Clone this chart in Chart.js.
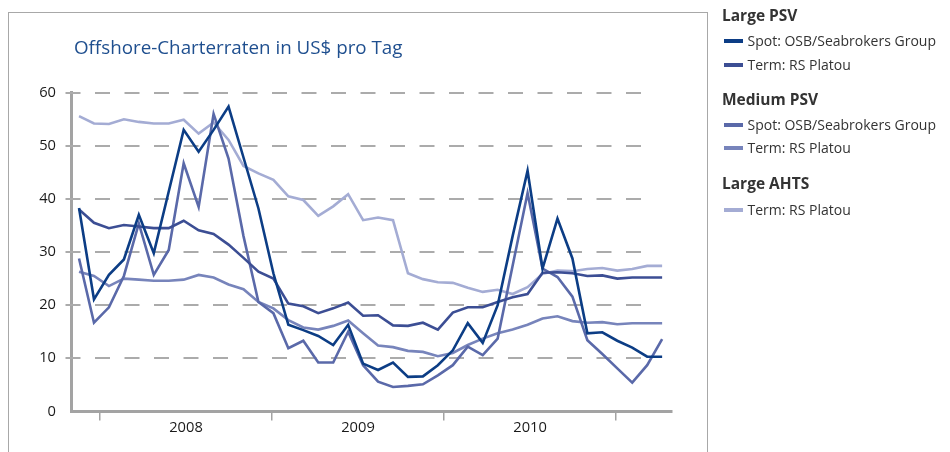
<!DOCTYPE html>
<html>
<head>
<meta charset="utf-8">
<script src="https://cdn.jsdelivr.net/npm/chart.js@4.4.1/dist/chart.umd.min.js"></script>
<style>
  html, body { margin: 0; padding: 0; background: #fff; }
  body { width: 950px; height: 452px; position: relative; overflow: hidden; font-family: 'Open Sans', sans-serif; }
  #frame { position: absolute; left: 8px; top: 12px; width: 700px; height: 520px; border: 1.5px solid #a8a8a8; box-sizing: border-box; }
  #chartWrap { position: absolute; left: 0; top: 0; width: 950px; height: 452px; }
  #title { position: absolute; left: 74px; top: 38.3px; font-size: 18.8px; line-height: 1; color: #1f4f8f; white-space: nowrap; }
  .lg-head { position: absolute; left: 722px; font-size: 15.5px; line-height: 1; font-weight: 700; color: #333; white-space: nowrap; }
  .lg-item { position: absolute; left: 747.5px; font-size: 14px; line-height: 1; color: #333; white-space: nowrap; }
  .lg-sw { position: absolute; left: 724px; width: 19.3px; height: 4px; }
</style>
</head>
<body>
<div id="frame"></div>
<div id="chartWrap"><canvas id="c" width="950" height="452"></canvas></div>
<div id="title">Offshore-Charterraten in US$ pro Tag</div>
<div id="legend"></div>
<script>
const largePsvSpot  = [38.3, 21.1, 25.7, 28.6, 37.0, 29.8, 41.4, 53.0, 48.9, 53.0, 57.4, 47.8, 38.2, 26.0, 16.3, 15.3, 14.2, 12.5, 16.3, 9.0, 7.8, 9.2, 6.5, 6.6, 8.7, 11.5, 16.6, 12.9, 20.0, 33.0, 45.3, 26.9, 36.3, 28.8, 14.7, 14.9, 13.3, 12.0, 10.3, 10.3];
const largePsvTerm  = [38.0, 35.5, 34.5, 35.1, 34.8, 34.5, 34.5, 35.9, 34.1, 33.4, 31.4, 28.9, 26.3, 25.0, 20.3, 19.8, 18.5, 19.4, 20.5, 18.0, 18.1, 16.2, 16.1, 16.7, 15.4, 18.6, 19.6, 19.6, 20.6, 21.5, 22.1, 26.1, 26.2, 26.0, 25.5, 25.6, 25.0, 25.2, 25.2, 25.2];
const mediumPsvSpot = [28.8, 16.7, 19.6, 25.5, 35.4, 25.7, 30.4, 46.7, 38.5, 56.0, 47.6, 33.0, 20.6, 18.5, 11.9, 13.3, 9.2, 9.2, 15.0, 8.7, 5.6, 4.6, 4.8, 5.1, 6.8, 8.7, 12.2, 10.6, 13.7, 27.4, 41.1, 26.9, 25.3, 21.6, 13.4, 10.8, 8.1, 5.4, 8.7, 13.6];
const mediumPsvTerm = [26.3, 25.5, 23.6, 25.0, 24.8, 24.6, 24.6, 24.8, 25.7, 25.2, 23.9, 23.0, 20.6, 19.4, 17.2, 15.8, 15.4, 16.1, 17.1, 14.7, 12.4, 12.1, 11.4, 11.2, 10.4, 11.0, 12.5, 13.7, 14.7, 15.4, 16.3, 17.5, 17.9, 17.0, 16.7, 16.8, 16.4, 16.6, 16.6, 16.6];
const largeAhtsTerm = [55.6, 54.2, 54.1, 55.0, 54.5, 54.2, 54.2, 54.9, 52.3, 54.4, 51.1, 46.2, 44.8, 43.6, 40.5, 39.8, 36.8, 38.6, 40.9, 36.0, 36.5, 36.0, 26.0, 24.9, 24.3, 24.2, 23.3, 22.5, 22.9, 22.1, 23.4, 25.9, 26.5, 26.4, 26.8, 27.0, 26.5, 26.8, 27.4, 27.4];

const yearLabels = ['2008', '2009', '2010'];
const yTickValues = [0, 10, 20, 30, 40, 50, 60];

const legendGroups = [
  { head: 'Large PSV', items: [ { label: 'Spot: OSB/Seabrokers Group', series: 0 }, { label: 'Term: RS Platou', series: 1 } ] },
  { head: 'Medium PSV', items: [ { label: 'Spot: OSB/Seabrokers Group', series: 2 }, { label: 'Term: RS Platou', series: 3 } ] },
  { head: 'Large AHTS', items: [ { label: 'Term: RS Platou', series: 4 } ] }
];

// ---- Style / layout configuration ----
const COLORS = ['#0c3d85', '#3c4e94', '#5a69a9', '#7784bb', '#a4acd4'];
const X_MIN = -0.49, X_MAX = 39.64;             // axis extent in observation index units
const YEAR_BOUNDS = [1.40, 12.91, 24.41, 35.92]; // year boundary tick positions
const AXIS_COLOR = '#a3a3a3';
const GRID_COLOR = '#ababab';

const seriesList = [largePsvSpot, largePsvTerm, mediumPsvSpot, mediumPsvTerm, largeAhtsTerm];
const toXY = arr => arr.map((v, i) => ({ x: i, y: v }));
const yearMids = yearLabels.map((_, i) => (YEAR_BOUNDS[i] + YEAR_BOUNDS[i + 1]) / 2);
const xTickValues = [...YEAR_BOUNDS, ...yearMids].sort((a, b) => a - b);

// legend (HTML)
const legendEl = document.getElementById('legend');
const headTops = [7.9, 91.5, 176.2];
const itemTops = [[34.3, 58.3], [117.6, 140.9], [202.6]];
legendGroups.forEach((g, gi) => {
  const h = document.createElement('div');
  h.className = 'lg-head'; h.style.top = headTops[gi] + 'px'; h.textContent = g.head;
  legendEl.appendChild(h);
  g.items.forEach((it, ii) => {
    const t = itemTops[gi][ii];
    const sw = document.createElement('div');
    sw.className = 'lg-sw'; sw.style.top = (t + 12.43 - 5.4 - 2) + 'px'; sw.style.background = COLORS[it.series];
    legendEl.appendChild(sw);
    const d = document.createElement('div');
    d.className = 'lg-item'; d.style.top = t + 'px'; d.textContent = it.label;
    legendEl.appendChild(d);
  });
});

const dashGrid = {
  id: 'dashGrid',
  beforeDatasetsDraw(chart) {
    const { ctx, scales: { x, y } } = chart;
    ctx.save();
    ctx.strokeStyle = GRID_COLOR;
    ctx.lineWidth = 2;
    ctx.setLineDash([15, 14.5]);
    y.ticks.forEach(t => {
      if (t.value <= 0) return;
      const py = Math.round(y.getPixelForValue(t.value));
      ctx.beginPath();
      ctx.moveTo(x.left - 6.2, py);
      ctx.lineTo(x.right - 27, py);
      ctx.stroke();
    });
    ctx.restore();
  }
};

const tickFont = { family: 'Open Sans', size: 14.7 };

new Chart(document.getElementById('c'), {
  type: 'line',
  data: {
    datasets: seriesList.map((s, i) => ({
      data: toXY(s),
      borderColor: COLORS[i],
      borderWidth: 2.6,
      pointRadius: 0,
      tension: 0,
      fill: false
    }))
  },
  options: {
    responsive: false,
    animation: false,
    layout: { padding: { top: 92.7, right: 278.3, bottom: 0, left: 0 } },
    plugins: { legend: { display: false }, tooltip: { enabled: false }, title: { display: false } },
    scales: {
      x: {
        type: 'linear',
        position: 'bottom',
        min: X_MIN,
        max: X_MAX,
        afterFit(s) { s.height = 452 - 411.4; },
        afterBuildTicks(s) { s.ticks = xTickValues.map(v => ({ value: v })); },
        ticks: {
          autoSkip: false,
          maxRotation: 0,
          padding: -1,
          color: '#1a1a1a',
          font: tickFont,
          callback: v => { const k = yearMids.indexOf(v); return k >= 0 ? yearLabels[k] : ''; }
        },
        grid: {
          display: true,
          drawOnChartArea: false,
          drawTicks: true,
          tickLength: 9,
          lineWidth: 1.5,
          color: c => (c.tick && YEAR_BOUNDS.includes(c.tick.value)) ? AXIS_COLOR : 'rgba(0,0,0,0)'
        },
        border: { display: true, color: AXIS_COLOR, width: 3 }
      },
      y: {
        min: 0,
        max: 60,
        afterFit(s) { s.width = 71.7; },
        afterBuildTicks(s) { s.ticks = yTickValues.map(v => ({ value: v })); },
        ticks: { padding: 15.7, color: '#1a1a1a', font: tickFont },
        grid: { display: false, drawTicks: false, tickLength: 0 },
        border: { display: true, color: AXIS_COLOR, width: 3 }
      }
    }
  },
  plugins: [dashGrid]
});
</script>
</body>
</html>
